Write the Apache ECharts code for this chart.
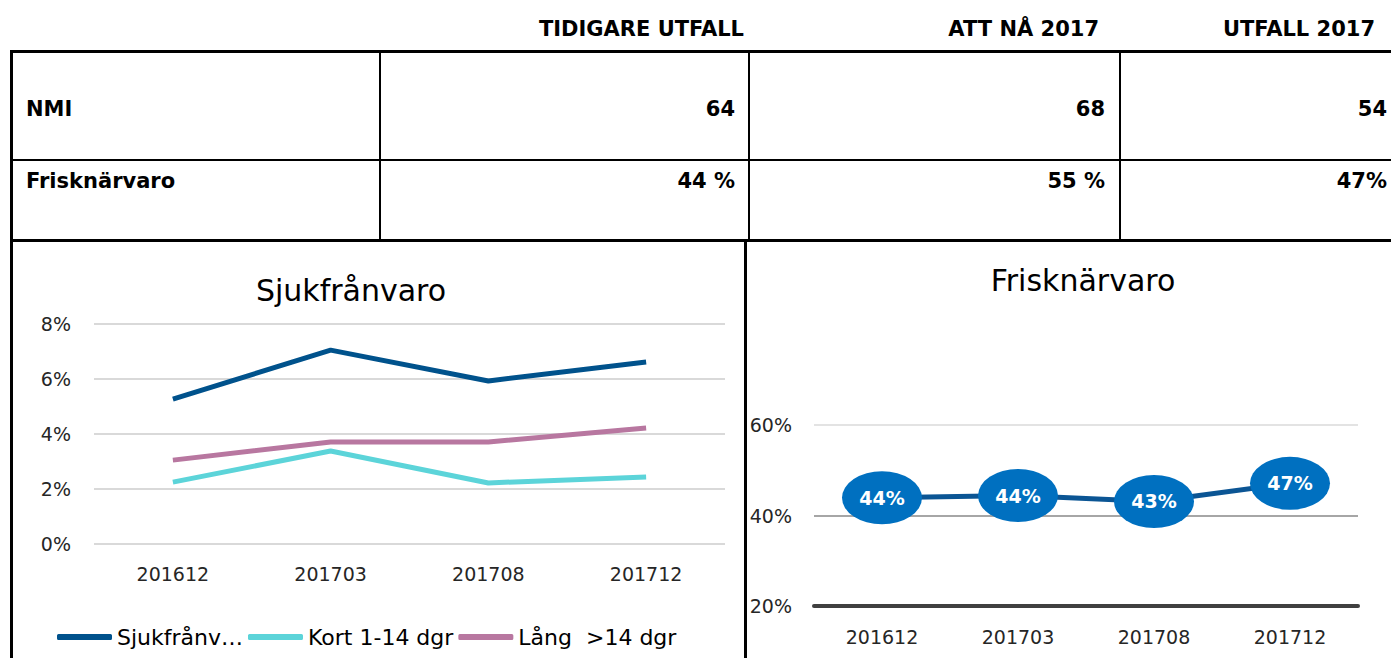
<!DOCTYPE html>
<html><head><meta charset="utf-8">
<script src="https://cdn.jsdelivr.net/npm/echarts@6/dist/echarts.min.js"></script>
<style>
html,body{margin:0;padding:0;background:#fff;width:1391px;height:658px;overflow:hidden;font-family:"DejaVu Sans",sans-serif;}
#chart{position:absolute;left:0;top:0;width:1391px;height:658px;}
.ln{position:absolute;background:#000;}
.t{position:absolute;font-weight:bold;font-size:21px;color:#000;line-height:1;white-space:nowrap;}
</style></head>
<body>
<div id="chart"></div>
<div id="tbl"></div>
<script>
// ---- table data ----
const headers = ['TIDIGARE UTFALL', 'ATT NÅ 2017', 'UTFALL 2017'];
const rowLabels = ['NMI', 'Frisknärvaro'];
const rowValues = [['64', '68', '54'], ['44 %', '55 %', '47%']];

// ---- chart data ----
const categories = ['201612', '201703', '201708', '201712'];
const leftTitle = 'Sjukfrånvaro';
const rightTitle = 'Frisknärvaro';
const seriesNames = ['Sjukfrånvaro', 'Kort 1-14 dgr', 'Lång  >14 dgr'];
const legendLabels = ['Sjukfrånv…', 'Kort 1-14 dgr', 'Lång  >14 dgr'];
const sjukTotal = [5.27, 7.05, 5.93, 6.62];
const sjukKort = [2.25, 3.38, 2.22, 2.44];
const sjukLang = [3.05, 3.71, 3.71, 4.22];
const frisk = [43.9, 44.4, 43.1, 47.1];

// ---- table drawing ----
const tbl = document.getElementById('tbl');
function line(x, y, w, h) {
  const d = document.createElement('div');
  d.className = 'ln';
  d.style.left = x + 'px'; d.style.top = y + 'px';
  d.style.width = w + 'px'; d.style.height = h + 'px';
  tbl.appendChild(d);
}
function text(str, y, opts) {
  const d = document.createElement('div');
  d.className = 't';
  d.textContent = str;
  d.style.top = (y - 10) + 'px';
  if (opts.right !== undefined) d.style.right = (1391 - opts.right) + 'px';
  if (opts.left !== undefined) d.style.left = opts.left + 'px';
  tbl.appendChild(d);
}
const headerRight = [744, 1099, 1375];
const valueRight = [735, 1105, 1387];
const rowY = [109, 181];
headers.forEach((h, i) => text(h, 29, {right: headerRight[i]}));
rowLabels.forEach((r, i) => {
  text(r, rowY[i], {left: 26});
  rowValues[i].forEach((v, j) => text(v, rowY[i], {right: valueRight[j]}));
});
line(10, 50, 1381, 3);
line(10, 159, 1381, 2);
line(10, 239, 1381, 3);
line(10, 50, 3, 608);
line(379, 50, 2, 191);
line(748, 50, 2, 191);
line(1119, 50, 2, 191);
line(744, 240, 3, 418);

// ---- charts ----
const chart = echarts.init(document.getElementById('chart'), null, {renderer: 'svg', width: 1391, height: 658});
const font = 'DejaVu Sans';
const labelColor = '#262626';
const ellipse = 'path://M0,26A40,26 0 1,1 80,26A40,26 0 1,1 0,26Z';
chart.setOption({
  animation: false,
  textStyle: {fontFamily: font},
  graphic: [
    {type: 'text', x: 351, y: 290, style: {text: leftTitle, font: '30px "DejaVu Sans"', fill: '#000', textAlign: 'center', textVerticalAlign: 'middle'}},
    {type: 'text', x: 1083, y: 280, style: {text: rightTitle, font: '30px "DejaVu Sans"', fill: '#000', textAlign: 'center', textVerticalAlign: 'middle'}}
  ],
  legend: {
    data: seriesNames,
    left: 57, top: 626, padding: 0,
    icon: 'roundRect', itemWidth: 55, itemHeight: 6, itemGap: 5,
    textStyle: {fontSize: 22, color: '#000', fontFamily: font},
    formatter: name => legendLabels[seriesNames.indexOf(name)]
  },
  grid: [
    {left: 94, right: 666, top: 324, bottom: 114},
    {left: 814, right: 33, top: 425, bottom: 52}
  ],
  xAxis: [
    {gridIndex: 0, type: 'category', data: categories, boundaryGap: true,
     axisLine: {show: false}, axisTick: {show: false},
     axisLabel: {fontSize: 19, color: labelColor, margin: 20}},
    {gridIndex: 1, type: 'category', data: categories, boundaryGap: true,
     axisLine: {show: true, lineStyle: {color: '#404040', width: 4}}, axisTick: {show: false},
     axisLabel: {fontSize: 19, color: labelColor, margin: 21}}
  ],
  yAxis: [
    {gridIndex: 0, type: 'value', min: 0, max: 8, interval: 2,
     axisLine: {show: false}, axisTick: {show: false},
     axisLabel: {formatter: '{value}%', fontSize: 19, color: labelColor, margin: 23},
     splitLine: {lineStyle: {color: '#d9d9d9', width: 2}}},
    {gridIndex: 1, type: 'value', min: 20, max: 60, interval: 20,
     axisLine: {show: false}, axisTick: {show: false},
     axisLabel: {formatter: '{value}%', fontSize: 19, color: labelColor, margin: 22},
     splitLine: {lineStyle: {color: ['#404040', '#a6a6a6', '#e3e3e3'], width: 2}}}
  ],
  series: [
    {name: seriesNames[0], type: 'line', xAxisIndex: 0, yAxisIndex: 0, data: sjukTotal,
     showSymbol: false, symbol: 'none', color: '#00528c', lineStyle: {width: 5, color: '#00528c'}},
    {name: seriesNames[1], type: 'line', xAxisIndex: 0, yAxisIndex: 0, data: sjukKort,
     showSymbol: false, symbol: 'none', color: '#5cd4d9', lineStyle: {width: 5, color: '#5cd4d9'}},
    {name: seriesNames[2], type: 'line', xAxisIndex: 0, yAxisIndex: 0, data: sjukLang,
     showSymbol: false, symbol: 'none', color: '#b877a0', lineStyle: {width: 5, color: '#b877a0'}},
    {name: rightTitle, type: 'line', xAxisIndex: 1, yAxisIndex: 1, data: frisk,
     symbol: ellipse, symbolSize: [80, 53], clip: false,
     itemStyle: {color: '#0070c0', opacity: 1},
     lineStyle: {width: 5, color: '#0b5594'},
     label: {show: true, position: 'inside', color: '#fff', fontWeight: 'bold', fontSize: 19, fontFamily: font,
             formatter: p => Math.round(p.value) + '%'}}
  ]
});
</script>
</body></html>
